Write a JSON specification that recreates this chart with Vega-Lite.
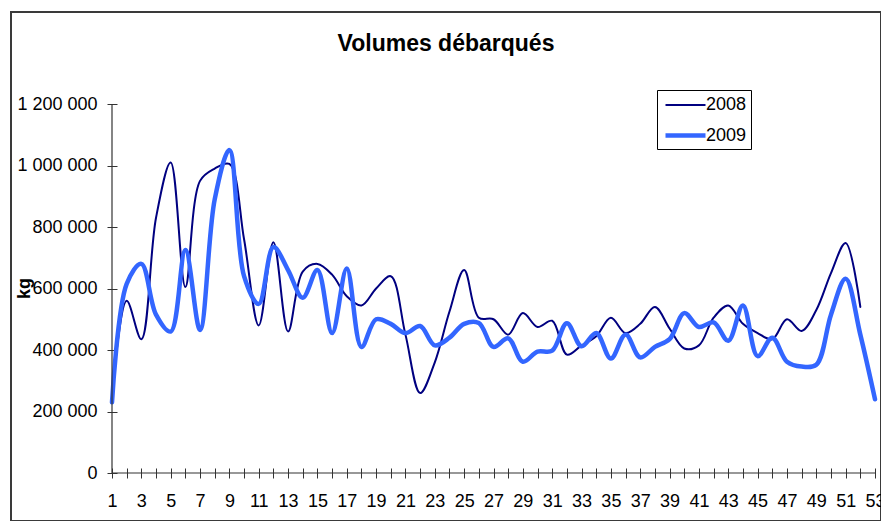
{
  "$schema": "https://vega.github.io/schema/vega-lite/v6.json",
  "width": 870,
  "height": 509,
  "autosize": {"type": "none"},
  "padding": {"left": 11, "top": 12, "right": 0, "bottom": 0},
  "background": "white",
  "config": {
    "view": {"stroke": "#3a3a3a", "strokeWidth": 2},
    "font": "Liberation Sans",
    "axis": {"labelOverlap": false, "labelFlush": false}
  },
  "title": {
    "text": "Volumes débarqués",
    "font": "Liberation Sans",
    "fontSize": 23,
    "fontWeight": "bold",
    "color": "black",
    "anchor": "middle",
    "frame": "group",
    "offset": -44
  },
  "datasets": {
    "volumes": [
      {"week": 1, "year": "2008", "kg": 250000},
      {"week": 2, "year": "2008", "kg": 560000},
      {"week": 3, "year": "2008", "kg": 435000},
      {"week": 4, "year": "2008", "kg": 830000},
      {"week": 5, "year": "2008", "kg": 1010000},
      {"week": 6, "year": "2008", "kg": 605000},
      {"week": 7, "year": "2008", "kg": 950000},
      {"week": 8, "year": "2008", "kg": 990000},
      {"week": 9, "year": "2008", "kg": 1005000},
      {"week": 10, "year": "2008", "kg": 760000},
      {"week": 11, "year": "2008", "kg": 480000},
      {"week": 12, "year": "2008", "kg": 750000},
      {"week": 13, "year": "2008", "kg": 460000},
      {"week": 14, "year": "2008", "kg": 655000},
      {"week": 15, "year": "2008", "kg": 680000},
      {"week": 16, "year": "2008", "kg": 645000},
      {"week": 17, "year": "2008", "kg": 575000},
      {"week": 18, "year": "2008", "kg": 545000},
      {"week": 19, "year": "2008", "kg": 600000},
      {"week": 20, "year": "2008", "kg": 640000},
      {"week": 21, "year": "2008", "kg": 450000},
      {"week": 22, "year": "2008", "kg": 260000},
      {"week": 23, "year": "2008", "kg": 360000},
      {"week": 24, "year": "2008", "kg": 525000},
      {"week": 25, "year": "2008", "kg": 660000},
      {"week": 26, "year": "2008", "kg": 505000},
      {"week": 27, "year": "2008", "kg": 500000},
      {"week": 28, "year": "2008", "kg": 450000},
      {"week": 29, "year": "2008", "kg": 520000},
      {"week": 30, "year": "2008", "kg": 475000},
      {"week": 31, "year": "2008", "kg": 495000},
      {"week": 32, "year": "2008", "kg": 385000},
      {"week": 33, "year": "2008", "kg": 415000},
      {"week": 34, "year": "2008", "kg": 445000},
      {"week": 35, "year": "2008", "kg": 505000},
      {"week": 36, "year": "2008", "kg": 455000},
      {"week": 37, "year": "2008", "kg": 485000},
      {"week": 38, "year": "2008", "kg": 540000},
      {"week": 39, "year": "2008", "kg": 470000},
      {"week": 40, "year": "2008", "kg": 405000},
      {"week": 41, "year": "2008", "kg": 415000},
      {"week": 42, "year": "2008", "kg": 505000},
      {"week": 43, "year": "2008", "kg": 545000},
      {"week": 44, "year": "2008", "kg": 485000},
      {"week": 45, "year": "2008", "kg": 455000},
      {"week": 46, "year": "2008", "kg": 435000},
      {"week": 47, "year": "2008", "kg": 500000},
      {"week": 48, "year": "2008", "kg": 462000},
      {"week": 49, "year": "2008", "kg": 530000},
      {"week": 50, "year": "2008", "kg": 650000},
      {"week": 51, "year": "2008", "kg": 748000},
      {"week": 52, "year": "2008", "kg": 540000},
      {"week": 1, "year": "2009", "kg": 230000},
      {"week": 2, "year": "2009", "kg": 615000},
      {"week": 3, "year": "2009", "kg": 680000},
      {"week": 4, "year": "2009", "kg": 515000},
      {"week": 5, "year": "2009", "kg": 460000},
      {"week": 6, "year": "2009", "kg": 725000},
      {"week": 7, "year": "2009", "kg": 465000},
      {"week": 8, "year": "2009", "kg": 890000},
      {"week": 9, "year": "2009", "kg": 1050000},
      {"week": 10, "year": "2009", "kg": 640000},
      {"week": 11, "year": "2009", "kg": 550000},
      {"week": 12, "year": "2009", "kg": 735000},
      {"week": 13, "year": "2009", "kg": 660000},
      {"week": 14, "year": "2009", "kg": 570000},
      {"week": 15, "year": "2009", "kg": 660000},
      {"week": 16, "year": "2009", "kg": 455000},
      {"week": 17, "year": "2009", "kg": 665000},
      {"week": 18, "year": "2009", "kg": 410000},
      {"week": 19, "year": "2009", "kg": 500000},
      {"week": 20, "year": "2009", "kg": 485000},
      {"week": 21, "year": "2009", "kg": 455000},
      {"week": 22, "year": "2009", "kg": 478000},
      {"week": 23, "year": "2009", "kg": 415000},
      {"week": 24, "year": "2009", "kg": 440000},
      {"week": 25, "year": "2009", "kg": 485000},
      {"week": 26, "year": "2009", "kg": 488000},
      {"week": 27, "year": "2009", "kg": 410000},
      {"week": 28, "year": "2009", "kg": 438000},
      {"week": 29, "year": "2009", "kg": 362000},
      {"week": 30, "year": "2009", "kg": 395000},
      {"week": 31, "year": "2009", "kg": 398000},
      {"week": 32, "year": "2009", "kg": 487000},
      {"week": 33, "year": "2009", "kg": 412000},
      {"week": 34, "year": "2009", "kg": 455000},
      {"week": 35, "year": "2009", "kg": 372000},
      {"week": 36, "year": "2009", "kg": 450000},
      {"week": 37, "year": "2009", "kg": 376000},
      {"week": 38, "year": "2009", "kg": 410000},
      {"week": 39, "year": "2009", "kg": 435000},
      {"week": 40, "year": "2009", "kg": 520000},
      {"week": 41, "year": "2009", "kg": 475000},
      {"week": 42, "year": "2009", "kg": 490000},
      {"week": 43, "year": "2009", "kg": 430000},
      {"week": 44, "year": "2009", "kg": 545000},
      {"week": 45, "year": "2009", "kg": 380000},
      {"week": 46, "year": "2009", "kg": 440000},
      {"week": 47, "year": "2009", "kg": 362000},
      {"week": 48, "year": "2009", "kg": 346000},
      {"week": 49, "year": "2009", "kg": 352000},
      {"week": 50, "year": "2009", "kg": 515000},
      {"week": 51, "year": "2009", "kg": 632000},
      {"week": 52, "year": "2009", "kg": 450000},
      {"week": 53, "year": "2009", "kg": 240000}
    ]
  },
  "layer": [
    {
      "data": {"name": "volumes"},
      "mark": {"type": "line", "interpolate": "catmull-rom", "strokeCap": "round", "strokeJoin": "round", "clip": false},
      "encoding": {
        "x": {
          "field": "week",
          "type": "quantitative",
          "scale": {"domain": [1, 53], "range": [101, 864], "nice": false, "zero": false},
          "axis": {
            "title": null,
            "values": [1,2,3,4,5,6,7,8,9,10,11,12,13,14,15,16,17,18,19,20,21,22,23,24,25,26,27,28,29,30,31,32,33,34,35,36,37,38,39,40,41,42,43,44,45,46,47,48,49,50,51,52,53],
            "tickCount": 100,
            "format": "d",
            "labelExpr": "datum.value % 2 === 1 ? datum.label : ''",
            "labelOverlap": false,
            "labelFlush": false,
            "labelBound": false,
            "labelAngle": 0,
            "labelFontSize": 18,
            "labelColor": "black",
            "labelFont": "Liberation Sans",
            "labelPadding": 14,
            "tickSize": 10,
            "tickColor": "#333333",
            "tickWidth": 1,
            "domain": false,
            "grid": false,
            "offset": -53
          }
        },
        "y": {
          "field": "kg",
          "type": "quantitative",
          "scale": {"domain": [0, 1200000], "range": [461, 92], "nice": false, "zero": true},
          "axis": {
            "title": "kg",
            "titleFont": "Liberation Sans",
            "titleFontSize": 18,
            "titleFontWeight": "bold",
            "titleColor": "black",
            "titleAngle": -90,
            "titleX": -93,
            "titleY": 276,
            "titleAlign": "center",
            "titleBaseline": "middle",
            "values": [0, 200000, 400000, 600000, 800000, 1000000, 1200000],
            "tickCount": 20,
            "labelExpr": "replace(format(datum.value, ','), regexp(',', 'g'), ' ')",
            "labelOverlap": false,
            "labelFontSize": 18,
            "labelColor": "black",
            "labelFont": "Liberation Sans",
            "labelPadding": 10,
            "tickSize": 10,
            "tickColor": "#333333",
            "tickWidth": 1,
            "domain": false,
            "grid": false,
            "offset": -106
          }
        },
        "color": {
          "field": "year",
          "type": "nominal",
          "scale": {"domain": ["2008", "2009"], "range": ["#000080", "#3366FF"]},
          "legend": {
            "orient": "none",
            "legendX": 646,
            "legendY": 78,
            "title": null,
            "symbolType": "M-2,0H2",
            "symbolSize": 400,
            "symbolOffset": 12,
            "labelFontSize": 18,
            "labelFont": "Liberation Sans",
            "labelColor": "black",
            "labelOffset": 8,
            "strokeColor": "black",
            "fillColor": "white",
            "padding": 4,
            "rowPadding": 9,
            "cornerRadius": 0
          }
        },
        "strokeWidth": {
          "field": "year",
          "type": "nominal",
          "scale": {"domain": ["2008", "2009"], "range": [2, 4.5]}
        }
      }
    },
    {
      "data": {"values": [{}]},
      "mark": {"type": "rule", "color": "#333333", "strokeWidth": 1.2},
      "encoding": {
        "x": {"datum": 1, "type": "quantitative"},
        "x2": {"datum": 53},
        "y": {"datum": 0, "type": "quantitative"}
      }
    },
    {
      "data": {"values": [{}]},
      "mark": {"type": "rule", "color": "#333333", "strokeWidth": 1.2},
      "encoding": {
        "x": {"datum": 1, "type": "quantitative"},
        "y": {"datum": 0, "type": "quantitative"},
        "y2": {"datum": 1200000}
      }
    }
  ]
}
